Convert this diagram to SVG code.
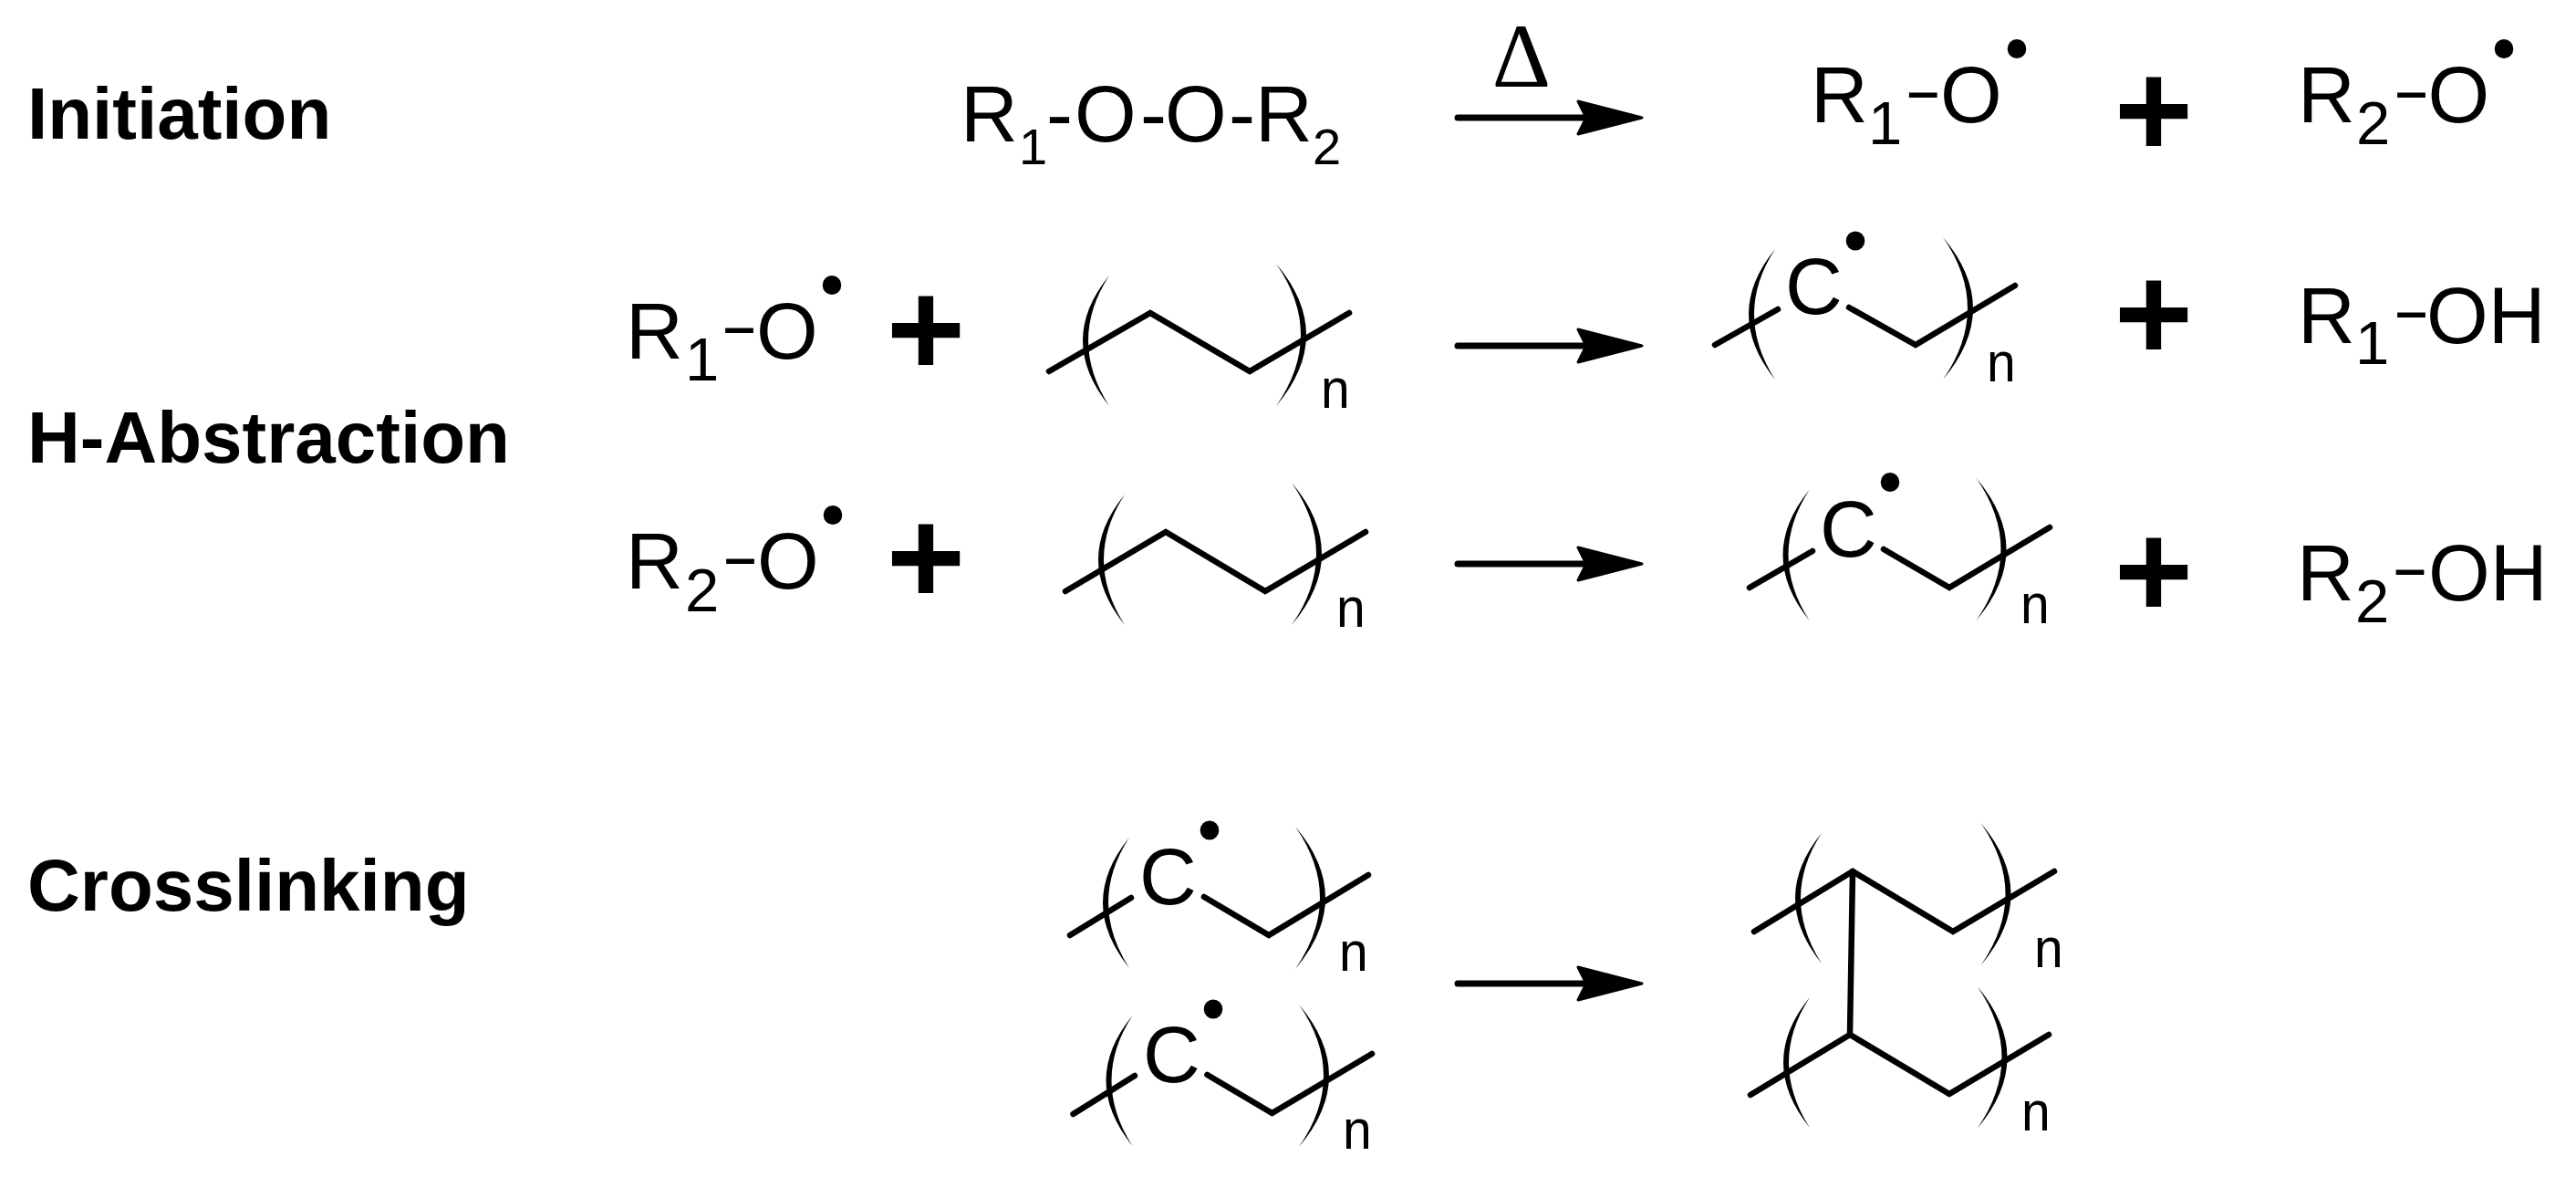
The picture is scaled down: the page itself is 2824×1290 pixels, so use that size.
<svg xmlns="http://www.w3.org/2000/svg" width="2824" height="1290" viewBox="0 0 2824 1290">
<style>
text{font-family:"Liberation Sans",Arial,sans-serif;fill:#000}
.l{font-size:80px;font-weight:700}
.m{font-size:87px}
.s{font-size:67px}
.t{font-size:56px}
.h{font-size:87px}
.n{font-size:62px}
.p{font-size:148px;font-weight:700;text-anchor:middle}
.d{font-family:"Liberation Serif","Times New Roman",serif;font-size:100px;text-anchor:middle}
.b{fill:none;stroke:#000;stroke-width:6.5;stroke-linecap:round;stroke-linejoin:miter}
.a{fill:none;stroke:#000;stroke-width:7;stroke-linecap:round}
</style>
<defs>
<path id="bl" d="M0,0Q-58,71 0,143Q-46,71 0,0Z"/>
<path id="br" d="M0,0Q66,78 0,156Q54,78 0,0Z"/>
<ellipse id="dot" rx="10.3" ry="10.5"/>
<marker id="head" viewBox="0 0 76 44" markerWidth="76" markerHeight="44" markerUnits="userSpaceOnUse" refX="11" refY="22" orient="auto">
<path d="M2,4L72,22L2,40L11,22Z" fill="#000" stroke="#000" stroke-width="3" stroke-linejoin="round"/>
</marker>
</defs>
<rect width="2824" height="1290" fill="#fff"/>
<g id="labels">
<text id="label-initiation" class="l" x="30" y="152">Initiation</text>
<text id="label-habstraction" class="l" x="30" y="507">H-Abstraction</text>
<text id="label-crosslinking" class="l" x="30" y="998">Crosslinking</text>
</g>
<g id="connectors">
<line class="a" x1="1598" y1="129" x2="1739" y2="129" marker-end="url(#head)"/>
<line class="a" x1="1598" y1="379" x2="1739" y2="379" marker-end="url(#head)"/>
<line class="a" x1="1598" y1="618" x2="1739" y2="618" marker-end="url(#head)"/>
<line class="a" x1="1598" y1="1078" x2="1739" y2="1078" marker-end="url(#head)"/>
</g>
<g id="delta"><text class="d" x="1668" y="95">Δ</text></g>
<g id="peroxide">
<text class="m" y="155"><tspan x="1053">R</tspan><tspan class="t" x="1117" y="180">1</tspan><tspan class="h" x="1147" y="155">-</tspan><tspan x="1178" y="155">O</tspan><tspan class="h" x="1250" y="155">-</tspan><tspan x="1277" y="155">O</tspan><tspan class="h" x="1347" y="155">-</tspan><tspan x="1376" y="155">R</tspan><tspan class="t" x="1439" y="180">2</tspan></text>
</g>
<g id="r1o-product">
<text class="m" y="134"><tspan x="1985">R</tspan><tspan class="s" x="2048" y="158">1</tspan><tspan x="2127" y="134">O</tspan></text>
<text class="m" transform="translate(2087.2,122.5) scale(1.45,.8)">-</text>
<use href="#dot" x="2211" y="53.5"/>
</g>
<g id="plus-1"><text class="p" x="2361" y="172">+</text></g>
<g id="r2o-product">
<text class="m" y="134"><tspan x="2519">R</tspan><tspan class="s" x="2583" y="158">2</tspan><tspan x="2661.5" y="134">O</tspan></text>
<text class="m" transform="translate(2622.5,122.8) scale(1.45,.8)">-</text>
<use href="#dot" x="2745" y="53.5"/>
</g>
<g id="r1o-reactant">
<text class="m" y="393"><tspan x="686">R</tspan><tspan class="s" x="751" y="417">1</tspan><tspan x="829" y="393">O</tspan></text>
<text class="m" transform="translate(789.5,380.8) scale(1.45,.8)">-</text>
<use href="#dot" x="912" y="312.5"/>
</g>
<g id="plus-2"><text class="p" x="1015" y="412">+</text></g>
<g id="polymer-1">
<polyline class="b" points="1150,407 1261,343 1370,407 1479,343"/>
<use href="#bl" x="1216" y="302"/><use href="#br" x="1399" y="289"/>
<text class="n" transform="translate(1448,447) scale(.92,1)">n</text>
</g>
<g id="radical-1">
<polyline class="b" points="1880,378 1949,339"/>
<polyline class="b" points="2027,337 2100,378 2209,313"/>
<use href="#bl" x="1946" y="273"/><use href="#br" x="2130" y="260"/>
<text class="m" x="1957" y="344">C</text>
<use href="#dot" x="2034" y="264"/>
<text class="n" transform="translate(2178,418) scale(.92,1)">n</text>
</g>
<g id="plus-3"><text class="p" x="2361" y="395">+</text></g>
<g id="r1oh">
<text class="m" y="376"><tspan x="2519">R</tspan><tspan class="s" x="2582" y="399">1</tspan><tspan x="2660" y="376">OH</tspan></text>
<text class="m" transform="translate(2622.5,363.8) scale(1.45,.8)">-</text>
</g>
<g id="r2o-reactant">
<text class="m" y="645"><tspan x="686">R</tspan><tspan class="s" x="751" y="670">2</tspan><tspan x="830" y="645">O</tspan></text>
<text class="m" transform="translate(790.5,633.8) scale(1.45,.8)">-</text>
<use href="#dot" x="913" y="564.5"/>
</g>
<g id="plus-4"><text class="p" x="1015" y="662">+</text></g>
<g id="polymer-2">
<polyline class="b" points="1168,648 1278,583 1387,648 1497,583"/>
<use href="#bl" x="1233" y="542"/><use href="#br" x="1416" y="529"/>
<text class="n" transform="translate(1465,687) scale(.92,1)">n</text>
</g>
<g id="radical-2">
<polyline class="b" points="1918,644 1987,604"/>
<polyline class="b" points="2065,602 2137,644 2247,578"/>
<use href="#bl" x="1983.5" y="537"/><use href="#br" x="2166.5" y="524"/>
<text class="m" x="1995" y="610">C</text>
<use href="#dot" x="2072" y="528.5"/>
<text class="n" transform="translate(2215,683) scale(.92,1)">n</text>
</g>
<g id="plus-5"><text class="p" x="2361" y="677">+</text></g>
<g id="r2oh">
<text class="m" y="658"><tspan x="2518">R</tspan><tspan class="s" x="2582" y="682">2</tspan><tspan x="2662" y="658">OH</tspan></text>
<text class="m" transform="translate(2621,645.8) scale(1.45,.8)">-</text>
</g>
<g id="radical-3">
<polyline class="b" points="1173,1025 1240,984"/>
<polyline class="b" points="1320,983 1391,1025 1500,959"/>
<use href="#bl" x="1238" y="918"/><use href="#br" x="1420" y="906"/>
<text class="m" x="1249" y="991">C</text>
<use href="#dot" x="1326" y="910"/>
<text class="n" transform="translate(1468,1064) scale(.92,1)">n</text>
</g>
<g id="radical-4">
<polyline class="b" points="1176.5,1221 1244,1179"/>
<polyline class="b" points="1323.5,1178 1394.5,1220 1504,1155"/>
<use href="#bl" x="1241.5" y="1113"/><use href="#br" x="1424" y="1101"/>
<text class="m" x="1253" y="1186">C</text>
<use href="#dot" x="1330" y="1106"/>
<text class="n" transform="translate(1472,1259) scale(.92,1)">n</text>
</g>
<g id="crosslinked">
<polyline class="b" points="1923,1021 2031,955 2141,1021 2252,955"/>
<polyline class="b" points="1919,1200 2028,1134 2137,1199 2246,1134"/>
<line class="b" x1="2031" y1="955" x2="2028" y2="1134"/>
<use href="#bl" x="1997" y="913"/><use href="#br" x="2171.5" y="902"/>
<use href="#bl" x="1984" y="1093"/><use href="#br" x="2167.5" y="1081"/>
<text class="n" transform="translate(2230,1060) scale(.92,1)">n</text>
<text class="n" transform="translate(2216,1239) scale(.92,1)">n</text>
</g>
</svg>
